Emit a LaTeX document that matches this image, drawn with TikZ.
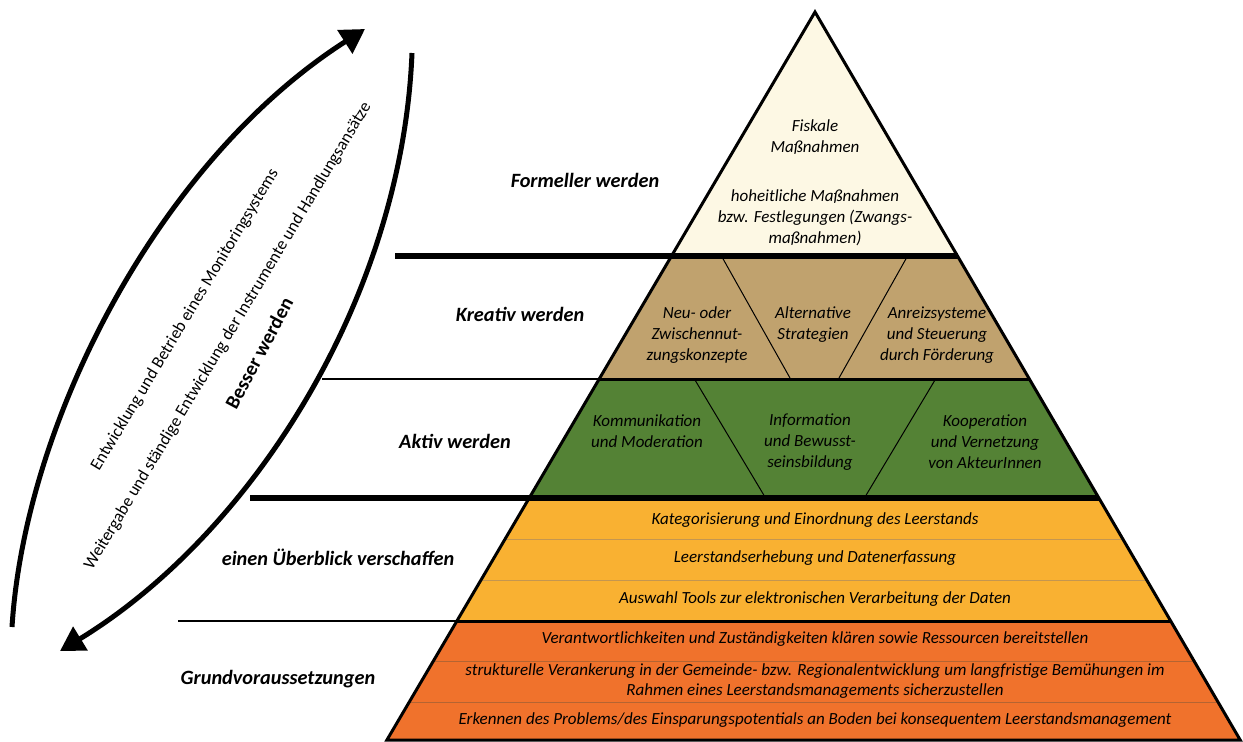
\documentclass[tikz,border=0pt]{standalone}
\usepackage{fontspec}
\setmainfont{Carlito}
\usetikzlibrary{arrows.meta}
\definecolor{lvlA}{RGB}{253,248,228}
\definecolor{lvlB}{RGB}{192,162,110}
\definecolor{lvlC}{RGB}{84,130,53}
\definecolor{lvlD}{RGB}{249,177,50}
\definecolor{lvlE}{RGB}{240,114,44}
\definecolor{sepD}{RGB}{196,150,80}
\definecolor{sepE}{RGB}{180,100,50}
\begin{document}
\begin{tikzpicture}[x=1pt,y=-1pt,
  lbl/.style={font=\fontsize{20.3}{24}\selectfont\bfseries\itshape, inner sep=0pt},
  intext/.style={font=\fontsize{17}{21}\selectfont\itshape, align=center, inner sep=0pt},
  rowtext/.style={font=\fontsize{17}{20}\selectfont\itshape, align=center, inner sep=0pt},
  sidetext/.style={font=\fontsize{17.2}{20}\selectfont, inner sep=0pt, rotate=59},
  outline/.style={draw=black, line width=3pt, line join=miter},
  divider/.style={draw=black, line width=1pt},
  thickrule/.style={draw=black, line width=6pt},
  thinrule/.style={draw=black, line width=2pt},
  looparrow/.style={draw=black, line width=5pt, -{Triangle[length=24pt,width=27pt]}}
]
\useasboundingbox (0,0) rectangle (1243,742);

% ---- level fills ----
\fill[lvlE] (456.9,621) -- (1170.7,621) -- (1240.2,740) -- (386.9,740) -- cycle;
\fill[lvlD] (529.2,498) -- (1098.8,498) -- (1170.7,621) -- (456.9,621) -- cycle;
\fill[lvlC] (599.2,379) -- (1029.3,379) -- (1098.8,498) -- (529.2,498) -- cycle;
\fill[lvlB] (671.5,256) -- (957.5,256) -- (1029.3,379) -- (599.2,379) -- cycle;
\fill[lvlA] (815,12) -- (957.5,256) -- (671.5,256) -- cycle;

% ---- row separators ----
\draw[sepD, line width=1pt] (505.1,539) -- (1122.8,539);
\draw[sepD, line width=1pt] (481,580) -- (1146.7,580);
\draw[sepE, line width=1pt] (433.4,661) -- (1194,661);
\draw[sepE, line width=1pt] (409.3,702) -- (1218,702);

% ---- section dividers ----
\draw[divider] (722,257) -- (790,378);
\draw[divider] (907,257) -- (839,378);
\draw[divider] (695,380) -- (765,497);
\draw[divider] (935,380) -- (865,497);

% ---- level boundaries ----
\draw[thinrule] (322,379) -- (1029.3,379);
\draw[thinrule] (178,621) -- (1170.7,621);
\draw[black, line width=3pt] (456.9,621) -- (1170.7,621);
\draw[black, line width=3pt] (599.2,379) -- (1029.3,379);
\draw[thickrule] (395,256) -- (957.5,256);
\draw[thickrule] (250,498) -- (1098.8,498);

% ---- outline ----
\draw[outline] (815,12) -- (1240.2,740) -- (386.9,740) -- cycle;

% ---- pyramid texts ----
\node[intext] (fisk) at (815,137) {Fiskale\\Maßnahmen};
\node[intext] (hoheit) at (815,218) {hoheitliche Maßnahmen\\bzw. Festlegungen (Zwangs-\\maßnahmen)};
\node[intext] (neu) at (697,335) {Neu- oder\\Zwischennut-\\zungskonzepte};
\node[intext] (alt) at (813,324.5) {Alternative\\Strategien};
\node[intext] (anr) at (937,335) {Anreizsysteme\\und Steuerung\\durch Förderung};
\node[intext] (komm) at (647,431.5) {Kommunikation\\und Moderation};
\node[intext] (info) at (810,442) {Information\\und Bewusst-\\seinsbildung};
\node[intext] (koop) at (985,442) {Kooperation\\und Vernetzung\\von AkteurInnen};
\node[rowtext] (kat) at (815,520) {Kategorisierung und Einordnung des Leerstands};
\node[rowtext] (erh) at (815,558) {Leerstandserhebung und Datenerfassung};
\node[rowtext] (tools) at (815,599) {Auswahl Tools zur elektronischen Verarbeitung der Daten};
\node[rowtext] (verant) at (815,639) {Verantwortlichkeiten und Zuständigkeiten klären sowie Ressourcen bereitstellen};
\node[rowtext] (strukt) at (815,681) {strukturelle Verankerung in der Gemeinde- bzw. Regionalentwicklung um langfristige Bemühungen im\\Rahmen eines Leerstandsmanagements sicherzustellen};
\node[rowtext] (erk) at (815,720) {Erkennen des Problems/des Einsparungspotentials an Boden bei konsequentem Leerstandsmanagement};

% ---- level labels ----
\node[lbl] (formell) at (585,180) {Formeller werden};
\node[lbl] (kreativ) at (520,314) {Kreativ werden};
\node[lbl] (aktiv) at (455,441) {Aktiv werden};
\node[lbl] (ueber) at (338,557) {einen Überblick verschaffen};
\node[lbl] (grund) at (278,679) {Grundvoraussetzungen};

% ---- side arrows ----
\coordinate (a1s) at (12,627);
\coordinate (a1e) at (365,29);
\coordinate (a2s) at (412,53);
\coordinate (a2e) at (60,651);
\draw[looparrow] (a1s) .. controls (25,420) and (160,160) .. (a1e);
\draw[looparrow] (a2s) .. controls (402,300) and (250,535) .. (a2e);

\node[sidetext] (mon) at (185,320) {Entwicklung und Betrieb eines Monitoringsystems};
\node[sidetext] (weit) at (228,336) {Weitergabe und ständige Entwicklung der Instrumente und Handlungsansätze};
\node[sidetext, font=\fontsize{20}{24}\selectfont\bfseries, rotate=3] (besser) at (259,353) {Besser werden};
\end{tikzpicture}
\end{document}
